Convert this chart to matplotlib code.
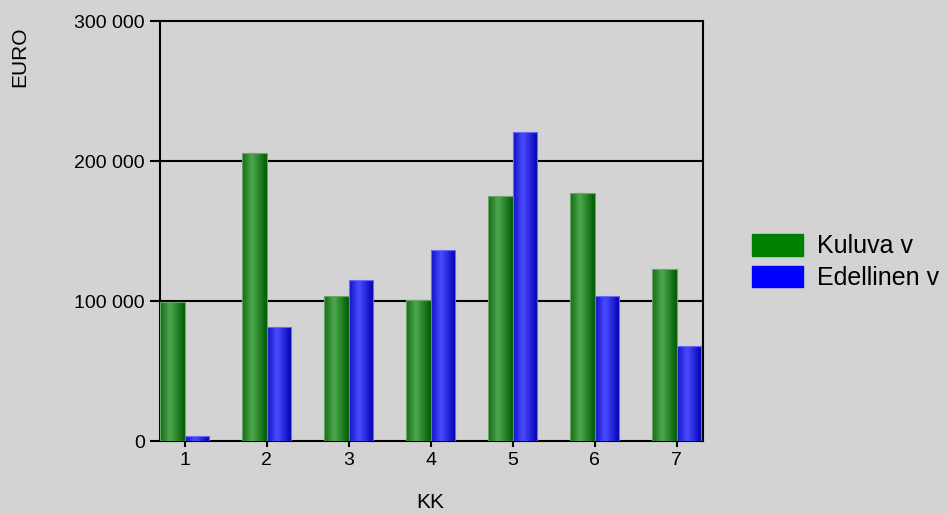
import numpy as np
import matplotlib
matplotlib.use("Agg")
import matplotlib.pyplot as plt
from matplotlib.colors import LinearSegmentedColormap
from matplotlib.patches import Patch

# data
months = [1, 2, 3, 4, 5, 6, 7]
kuluva = [99500, 205500, 103600, 100500, 174700, 177000, 123000]
edellinen = [3600, 81100, 115100, 136100, 220800, 103800, 67700]
y_ticks = [0, 100000, 200000, 300000]
y_tick_labels = ["0", "100 000", "200 000", "300 000"]

BG = "#d3d3d3"
plt.rcParams["font.family"] = ["Liberation Sans", "DejaVu Sans"]

green_cmap = LinearSegmentedColormap.from_list(
    "g", [(0.0, "#176a17"), (0.4, "#4fa84f"), (1.0, "#005c00")])
blue_cmap = LinearSegmentedColormap.from_list(
    "b", [(0.0, "#1010c8"), (0.4, "#4c4cff"), (1.0, "#0000b0")])


def shade_bars(ax, bars, cmap, edge):
    grad = np.linspace(0, 1, 64).reshape(1, -1)
    for b in bars:
        x0, y0 = b.get_x(), b.get_y()
        w, h = b.get_width(), b.get_height()
        im = ax.imshow(grad, cmap=cmap, aspect="auto",
                       extent=(x0, x0 + w, y0, y0 + h), zorder=3,
                       interpolation="bicubic")
        im.set_clip_path(b)
        b.set_facecolor("none")
        b.set_edgecolor(edge)
        b.set_linewidth(0.8)
        b.set_zorder(4)


def main():
    fig = plt.figure(figsize=(9.48, 5.13), dpi=100, facecolor=BG)
    ax = fig.add_axes([160 / 948, 1 - 441 / 513, 543 / 948, 420 / 513])
    ax.set_facecolor(BG)

    w = 0.3
    x = np.array(months, dtype=float)
    gb = ax.bar(x - w / 2, kuluva, width=w, zorder=3)
    bb = ax.bar(x + w / 2, edellinen, width=w, zorder=3)
    shade_bars(ax, gb, green_cmap, "#6aa86a")
    shade_bars(ax, bb, blue_cmap, "#6a6aff")

    ax.set_xlim(0.7, 7.32)
    ax.set_ylim(0, 300000)
    ax.set_xticks(months)
    ax.set_xticklabels([str(m) for m in months])
    ax.set_yticks(y_ticks)
    ax.set_yticklabels(y_tick_labels)
    ax.tick_params(axis="y", length=7, width=1.5, pad=4, labelsize=14)
    ax.tick_params(axis="x", length=4, width=1.5, pad=4, labelsize=14)

    for yv in y_ticks[1:3]:
        ax.axhline(yv, color="black", lw=1.5, zorder=1)
    for s in ax.spines.values():
        s.set_linewidth(1.5)
        s.set_color("black")

    fig.text(20 / 948, 1 - 57 / 513, "EURO", rotation=90, fontsize=15,
             ha="center", va="center")
    fig.text(430 / 948, 1 - 502 / 513, "KK", fontsize=15,
             ha="center", va="center")

    handles = [Patch(facecolor="#008000", edgecolor="#008000"),
               Patch(facecolor="#0000ff", edgecolor="#0000ff")]
    fig.legend(handles, ["Kuluva v", "Edellinen v"],
               loc="center left", bbox_to_anchor=(752 / 948, 1 - 262 / 513),
               frameon=False, fontsize=18, handlelength=2.04,
               handleheight=0.96, handletextpad=0.56, labelspacing=0.3,
               borderpad=0, borderaxespad=0)

    fig.savefig("out.png", dpi=100, facecolor=BG)
    plt.close(fig)


if __name__ == "__main__":
    main()
